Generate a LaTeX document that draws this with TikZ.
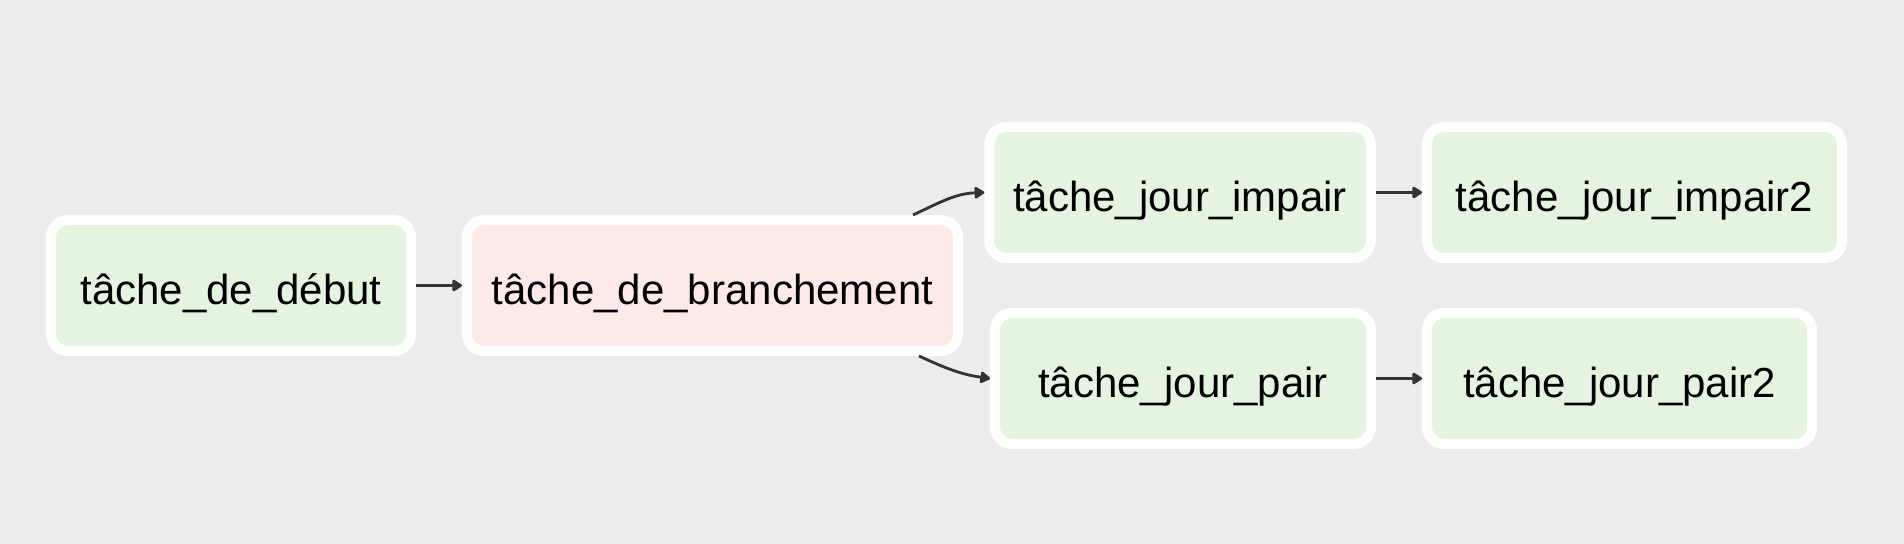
\documentclass[tikz,border=0pt]{standalone}
\usepackage{fontspec}
\setmainfont{Liberation Sans}
\usetikzlibrary{arrows.meta}

\definecolor{fond}{HTML}{ECECEC}
\definecolor{vert}{HTML}{E5F4E0}
\definecolor{rose}{HTML}{FDE9E8}
\definecolor{trait}{HTML}{333333}

\tikzset{
    tache/.style={draw=white, line width=5pt, rounded corners=8.5pt,
        minimum height=65.5pt, inner sep=0pt,
        text height=19.5pt, text depth=0pt,
        font=\fontsize{21}{25}\selectfont},
    ok/.style={tache, fill=vert},
    choix/.style={tache, fill=rose},
    lien/.style={draw=trait, line width=1.4pt,
        -{Triangle[length=5.5pt,width=6.5pt,round]}}
}

\begin{document}
\begin{tikzpicture}[x=1pt, y=1pt]
    % Background
    \fill[fond] (0, 0) rectangle (952, 272);
    \useasboundingbox (0, 0) rectangle (952, 272);

    % Tasks
    \node[ok, minimum width=180pt] (debut) at (115.5, 129.25) {tâche\_de\_début};
    \node[choix, minimum width=245.5pt] (branche) at (356.25, 129.25) {tâche\_de\_branchement};
    \node[ok, minimum width=190.75pt] (impair) at (590, 175.75) {tâche\_jour\_impair};
    \node[ok, minimum width=207.5pt] (impair2) at (817.25, 175.75) {tâche\_jour\_impair2};
    \node[ok, minimum width=188pt] (pair) at (591.5, 82.75) {tâche\_jour\_pair};
    \node[ok, minimum width=192.5pt] (pair2) at (809.75, 82.75) {tâche\_jour\_pair2};

    % Links
    \draw[lien] (debut) -- (branche);
    \draw[lien] ([xshift=-25pt]branche.north east) to[out=25, in=182] (impair.west);
    \draw[lien] ([xshift=-22pt]branche.south east) to[out=-25, in=172] (pair.west);
    \draw[lien] (impair) -- (impair2);
    \draw[lien] (pair) -- (pair2);
\end{tikzpicture}
\end{document}
